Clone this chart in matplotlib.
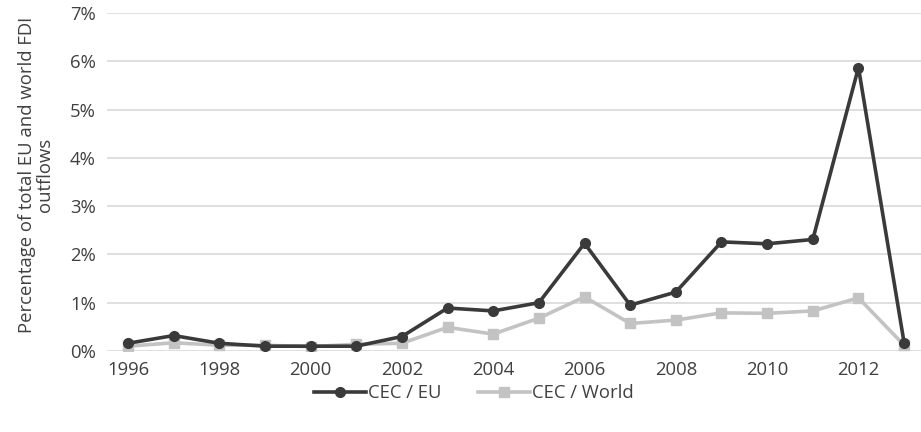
import matplotlib
matplotlib.use("Agg")
import matplotlib.pyplot as plt
from matplotlib.ticker import FuncFormatter

plt.rcParams['font.family'] = ['Open Sans', 'DejaVu Sans']

years = list(range(1996, 2014))
cec_eu = [0.16, 0.32, 0.16, 0.10, 0.10, 0.10, 0.30, 0.89, 0.83, 1.00,
          2.23, 0.95, 1.22, 2.26, 2.22, 2.31, 5.87, 0.17]
cec_world = [0.10, 0.17, 0.12, 0.12, 0.09, 0.14, 0.16, 0.49, 0.35, 0.68,
             1.12, 0.57, 0.64, 0.79, 0.78, 0.83, 1.10, 0.12]
xticks = list(range(1996, 2013, 2))

text_col = '#404040'
fs = 13.3

fig = plt.figure(figsize=(9.21, 4.32), dpi=100)
ax = fig.add_axes([107 / 921, 1 - 351 / 432, (921 - 107) / 921, (351 - 13) / 432])

ax.plot(years, cec_world, color='#c3c3c3', lw=2.6, marker='s', ms=7,
        label='CEC / World', zorder=3)
ax.plot(years, cec_eu, color='#3a3a3a', lw=2.6, marker='o', ms=7,
        label='CEC / EU', zorder=4)

ax.set_xlim(1995.54, 2013.37)
ax.set_ylim(0, 7)
ax.set_yticks(range(0, 8))
ax.yaxis.set_major_formatter(FuncFormatter(lambda v, p: f'{v:.0f}%'))
ax.set_xticks(xticks)
ax.grid(axis='y', color='#d9d9d9', lw=1.2)
ax.set_axisbelow(True)
for s in ax.spines.values():
    s.set_visible(False)
ax.tick_params(length=0, labelsize=fs, colors=text_col, pad=8)
ax.tick_params(axis='x', pad=7)

ax.set_ylabel('Percentage of total EU and world FDI\noutflows', fontsize=fs,
              color=text_col, linespacing=1.0)
ax.yaxis.set_label_coords(-0.065, 0.52)

handles, labels = ax.get_legend_handles_labels()
fig.legend(handles[::-1], labels[::-1], loc='center', bbox_to_anchor=(474 / 921, 1 - 393 / 432),
           ncol=2, frameon=False, fontsize=fs, handlelength=2.8, columnspacing=2.0,
           handletextpad=0.1, labelcolor=text_col)

fig.savefig('out.png', dpi=100)
